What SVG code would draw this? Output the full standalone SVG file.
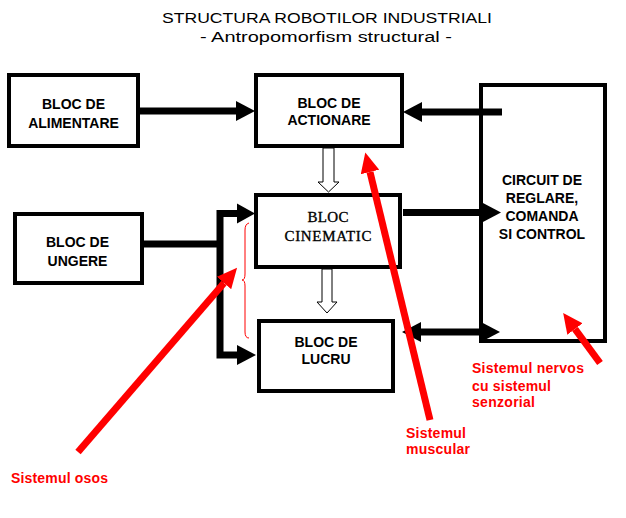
<svg xmlns="http://www.w3.org/2000/svg" width="626" height="518" viewBox="0 0 626 518">
<style>
.box{fill:#fff;stroke:#000;stroke-width:4}
.lbl{font-family:"Liberation Sans",Arial,sans-serif;font-weight:bold;font-size:14px;text-anchor:middle;fill:#000}
.serif{font-family:"Liberation Serif","Times New Roman",serif;font-size:15px;text-anchor:middle;fill:#000;stroke:#000;stroke-width:0.35}
.title{font-family:"Liberation Sans",Arial,sans-serif;font-size:14px;text-anchor:middle;fill:#000}
.red{font-family:"Liberation Sans",Arial,sans-serif;font-weight:bold;font-size:14px;fill:#f00}
.wire{fill:none;stroke:#000;stroke-width:7}
.rwire{fill:none;stroke:#f00;stroke-width:7}
.hollow{fill:#fff;stroke:#000;stroke-width:1}
</style>
<defs>
<marker id="ah" markerUnits="userSpaceOnUse" markerWidth="19" markerHeight="20" viewBox="0 0 19 20" refX="0" refY="10" orient="auto-start-reverse"><path d="M0,0 L19,10 L0,20 z" fill="#000"/></marker>
<marker id="rh" markerUnits="userSpaceOnUse" markerWidth="20" markerHeight="19" viewBox="0 0 20 19" refX="0" refY="9.5" orient="auto"><path d="M0,0 L20,9.5 L0,19 z" fill="#f00"/></marker>
</defs>
<rect width="626" height="518" fill="#fff"/>
<text class="title" x="327" y="22.5" textLength="330" lengthAdjust="spacingAndGlyphs">STRUCTURA ROBOTILOR INDUSTRIALI</text>
<text class="title" x="326" y="41.5" textLength="252" lengthAdjust="spacingAndGlyphs">- Antropomorfism structural -</text>
<g id="connectors">
<line class="wire" x1="140" y1="111" x2="236" y2="111" marker-end="url(#ah)"/>
<line class="wire" x1="502" y1="112" x2="422" y2="112" marker-end="url(#ah)"/>
<line class="wire" x1="403" y1="212.5" x2="482" y2="212.5" marker-end="url(#ah)"/>
<line class="wire" x1="421" y1="332" x2="481" y2="332" marker-start="url(#ah)" marker-end="url(#ah)"/>
<polyline class="wire" points="144,244 220,244"/>
<polyline class="wire" points="237,213.5 220,213.5 220,355 237,355"/>
<path d="M237,213.5 m0,-10 l18,10 l-18,10 z" fill="#000"/>
<path d="M237,355 m0,-10 l19,10 l-19,10 z" fill="#000"/>
<polygon class="hollow" points="323,148 334,148 334,182 339,182 328.5,192 318,182 323,182"/>
<polygon class="hollow" points="322,269 332,269 332,302 337,302 327,313 317,302 322,302"/>
</g>
<g id="alimentare"><rect class="box" x="9" y="75" width="129" height="71"/><text class="lbl" x="73.5" y="109">BLOC DE</text><text class="lbl" x="73.5" y="128">ALIMENTARE</text></g>
<g id="actionare"><rect class="box" x="256" y="75" width="146" height="71"/><text class="lbl" x="329" y="108">BLOC DE</text><text class="lbl" x="329" y="125">ACTIONARE</text></g>
<g id="cinematic"><rect class="box" x="256" y="195" width="144" height="72"/><text class="serif" x="328" y="222" textLength="41">BLOC</text><text class="serif" x="328" y="241" textLength="87">CINEMATIC</text></g>
<g id="lucru"><rect class="box" x="259" y="321" width="134" height="70"/><text class="lbl" x="326" y="347">BLOC DE</text><text class="lbl" x="326" y="364">LUCRU</text></g>
<g id="ungere"><rect class="box" x="15" y="214" width="127" height="69"/><text class="lbl" x="77.5" y="247">BLOC DE</text><text class="lbl" x="77.5" y="266">UNGERE</text></g>
<g id="circuit"><rect class="box" x="481" y="85" width="124" height="256" style="fill:none"/><text class="lbl" x="542" y="185">CIRCUIT DE</text><text class="lbl" x="542" y="203">REGLARE,</text><text class="lbl" x="542" y="221">COMANDA</text><text class="lbl" x="542" y="239">SI CONTROL</text></g>
<g id="annotations">
<path d="M249,223 Q245,224 245,230 L245,274 Q245,280 242,280 Q245,280 245,286 L245,332 Q245,338 249,338" fill="none" stroke="#f00" stroke-width="1"/>
<line class="rwire" x1="78" y1="452" x2="224" y2="283" marker-end="url(#rh)"/>
<line class="rwire" x1="430" y1="420" x2="370" y2="172" marker-end="url(#rh)"/>
<line class="rwire" x1="600" y1="363" x2="575" y2="329" marker-end="url(#rh)"/>
<text class="red" x="472" y="373" textLength="112">Sistemul nervos</text>
<text class="red" x="472" y="390.5" textLength="79">cu sistemul</text>
<text class="red" x="472" y="407" textLength="63">senzorial</text>
<text class="red" x="406" y="438" textLength="60">Sistemul</text>
<text class="red" x="406" y="454" textLength="64">muscular</text>
<text class="red" x="11" y="482.5" textLength="97">Sistemul osos</text>
</g>
</svg>
